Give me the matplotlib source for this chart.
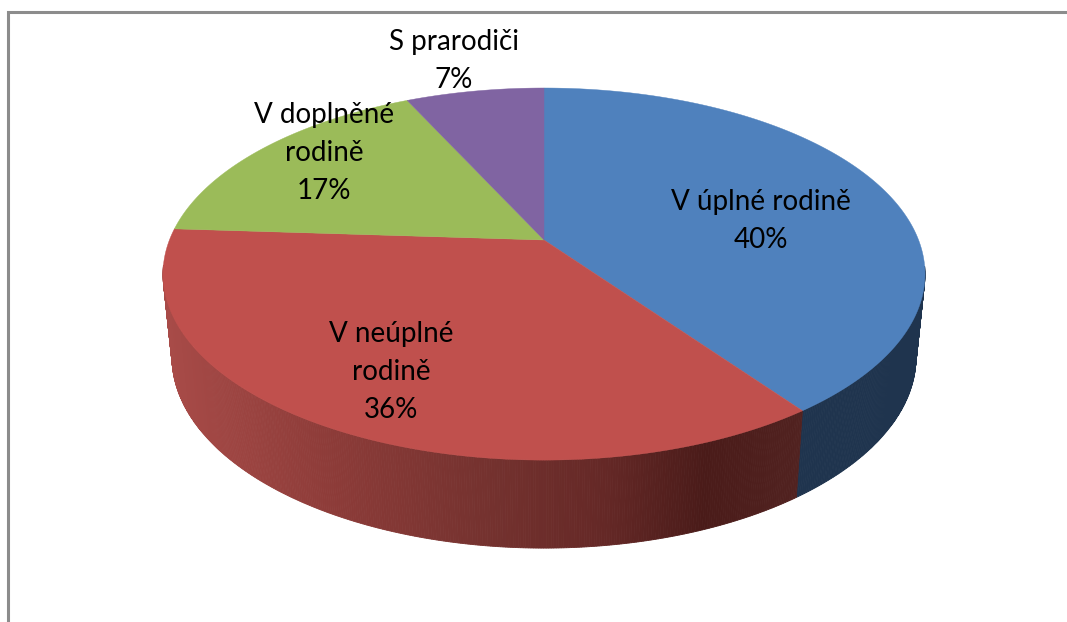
#!/usr/bin/env python3
"""Perspective 3D pie of family situation shares."""

import matplotlib
matplotlib.use("Agg")
import matplotlib.pyplot as plt
import numpy as np
from matplotlib.colors import LinearSegmentedColormap

categories = ["V úplné rodině", "V neúplné\nrodině", "V doplněné\nrodině", "S prarodiči"]
values = [40, 36, 17, 7]
colors = ["#4F81BD", "#C0504D", "#9BBB59", "#8064A2"]
label_pos = [(761, 221), (391, 372), (324, 153), (454, 61)]

CX, APEX_Y = 544, 240
TOP_CY, TOP_RX, TOP_RY = 274, 381, 186
BOT_CY, BOT_RX, BOT_RY = 357, 372, 191
C = 0.183
A = -135.9


def project(theta):
    """Angle clockwise from 12 o'clock on the disc -> picture coordinates."""
    u, v = np.sin(theta), np.cos(theta)
    w = C * v + 1
    x = CX + TOP_RX * np.sqrt(1 - C ** 2) * u / w
    y = (A * v + APEX_Y) / w
    return x, y


def bottom_of(x, y):
    sin_p = (x - CX) / TOP_RX
    cos_p = (TOP_CY - y) / TOP_RY
    return CX + BOT_RX * sin_p, BOT_CY - BOT_RY * cos_p


plt.rcParams["font.family"] = ["Lato", "DejaVu Sans"]
fig = plt.figure(figsize=(10.67, 6.22), dpi=100)
ax = fig.add_axes([0, 0, 1, 1])
ax.set_xlim(0, 1067)
ax.set_ylim(622, 0)
ax.axis("off")

# chart frame, cut off at the bottom and right of the picture
ax.plot([7.5, 7.5, 1067], [622, 11.5, 11.5], color="#8C8C8C", lw=2.2, solid_joinstyle="miter")

edges = np.cumsum([0] + values) / sum(values) * 2 * np.pi

red_side = LinearSegmentedColormap.from_list(
    "red_side",
    [(0, "#A84B48"), (0.25, "#8E3C39"), (0.5, "#75322F"), (0.7, "#642826"), (0.85, "#4A1B19"), (1, "#512220")],
)
blue_side = "#1F344E"

# side wall, drawn as thin strips so the red part can carry its gradient
for i in (0, 1):
    th = np.linspace(edges[i], edges[i + 1], 400)
    x, y = project(th)
    bx, by = bottom_of(x, y)
    keep = (y >= TOP_CY) | (np.abs(x - CX) > 0.999 * TOP_RX)
    for j in range(len(th) - 1):
        if not keep[j]:
            continue
        col = blue_side if i == 0 else red_side((x[j] - 163) / (803 - 163))
        ax.fill([x[j], x[j + 1], bx[j + 1], bx[j]], [y[j], y[j + 1], by[j + 1], by[j]],
                color=col, lw=0.6, zorder=2)

# top faces
for i, col in enumerate(colors):
    th = np.linspace(edges[i], edges[i + 1], 200)
    x, y = project(th)
    ax.fill(np.r_[CX, x], np.r_[APEX_Y, y], color=col, lw=0.3, zorder=3)

for name, val, (tx, ty) in zip(categories, values, label_pos):
    ax.text(tx, ty, f"{name}\n{val}%", ha="center", va="center", fontsize=20,
            color="black", linespacing=1.55, zorder=4)

fig.savefig("out.png", dpi=100)
